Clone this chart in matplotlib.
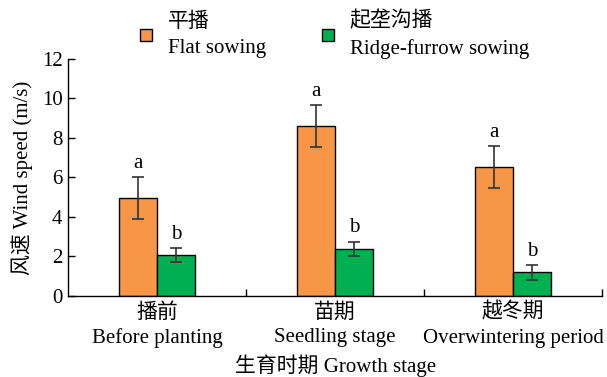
import matplotlib.pyplot as plt
import numpy as np
from matplotlib.lines import Line2D

plt.rcParams['font.family'] = ['Liberation Serif', 'Noto Sans CJK SC']
plt.rcParams['font.size'] = 15

stages = ["播前\nBefore planting", "苗期\nSeedling stage", "越冬期\nOverwintering period"]
flat = [4.95, 8.6, 6.53]
flat_err = [1.05, 1.06, 1.07]
ridge = [2.08, 2.38, 1.2]
ridge_err = [0.35, 0.37, 0.38]
flat_sig = ["a", "a", "a"]
ridge_sig = ["b", "b", "b"]

orange = "#F79646"
green = "#00B050"

fig = plt.figure(figsize=(6.07, 3.77), dpi=100)
ax = fig.add_axes([0.112, 0.215, 0.88, 0.6285])

x = np.arange(len(stages))
w = 0.215
err_kw = dict(ecolor="#333333", elinewidth=1.2, capsize=4, capthick=1.2)
ax.bar(x - w / 2, flat, w, yerr=flat_err, color=orange, edgecolor="black",
       linewidth=1, error_kw=err_kw)
ax.bar(x + w / 2, ridge, w, yerr=ridge_err, color=green, edgecolor="black",
       linewidth=1, error_kw=err_kw)

for xi, v, e, s in zip(x - w / 2, flat, flat_err, flat_sig):
    ax.annotate(s, (xi, v + e), xytext=(0, 3), textcoords="offset points",
                ha="center", va="bottom", fontsize=15)
for xi, v, e, s in zip(x + w / 2, ridge, ridge_err, ridge_sig):
    ax.annotate(s, (xi, v + e), xytext=(0, 3), textcoords="offset points",
                ha="center", va="bottom", fontsize=15)

ax.set_xlim(-0.5, 2.5)
ax.set_ylim(0, 12)
ax.set_yticks(range(0, 13, 2))
ax.set_xticks(x)
ax.set_xticklabels(stages, linespacing=1.4)
ax.set_xticks([0.5, 1.5, 2.5], minor=True)
ax.tick_params(axis="x", which="major", length=0, pad=5)
ax.tick_params(axis="x", which="minor", direction="in", length=5, width=1)
ax.tick_params(axis="y", direction="in", length=5, width=1, pad=4)
ax.spines["top"].set_visible(False)
ax.spines["right"].set_visible(False)
for sp in ("left", "bottom"):
    ax.spines[sp].set_linewidth(1)

ax.set_ylabel("风速 Wind speed (m/s)", labelpad=6)
ax.set_xlabel("生育时期 Growth stage", labelpad=4)

handles = [
    Line2D([], [], marker="s", linestyle="none", markersize=8,
           markerfacecolor=orange, markeredgecolor="black"),
    Line2D([], [], marker="s", linestyle="none", markersize=8,
           markerfacecolor=green, markeredgecolor="black"),
]
leg = fig.legend(handles, ["平播\nFlat sowing", "起垄沟播\nRidge-furrow sowing"],
                 ncol=2, frameon=False, loc="upper left",
                 bbox_to_anchor=(0.193, 1.02), handletextpad=0.55,
                 columnspacing=2.45, fontsize=15, handlelength=1)
for t in leg.get_texts():
    t.set_linespacing(1.5)

fig.savefig("out.png", dpi=100)
